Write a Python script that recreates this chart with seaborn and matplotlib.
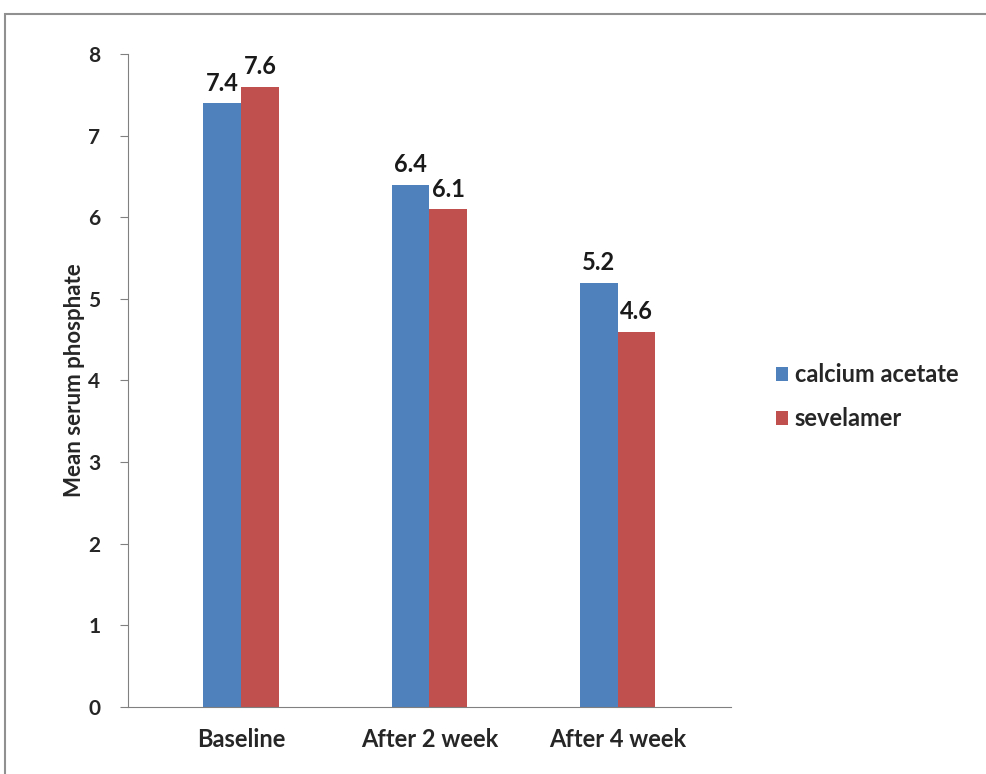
import pandas as pd
import numpy as np
import matplotlib.pyplot as plt
import seaborn as sns
from matplotlib.patches import Rectangle

periods = ["Baseline", "After 2 week", "After 4 week"]
calcium_acetate = [7.4, 6.4, 5.2]
sevelamer = [7.6, 6.1, 4.6]
y_ticks = [0, 1, 2, 3, 4, 5, 6, 7, 8]

df = pd.DataFrame({
    "period": periods * 2,
    "value": calcium_acetate + sevelamer,
    "drug": ["calcium acetate"] * 3 + ["sevelamer"] * 3,
})

sns.set_style("white")
plt.rcParams["font.family"] = ["Lato", "DejaVu Sans"]
plt.rcParams["font.weight"] = "bold"

fig = plt.figure(figsize=(9.86, 7.74), dpi=100)
ax = fig.add_axes([0.13, 0.0866, 0.611, 0.8436])

sns.barplot(
    data=df, x="period", y="value", hue="drug",
    palette=["#4F81BD", "#C0504D"], saturation=1, width=0.4, gap=0,
    edgecolor="none", ax=ax,
)

for cont in ax.containers:
    ax.bar_label(cont, fmt="%.1f", padding=6, fontsize=17, fontweight="bold", color="#1a1a1a")

ax.set_ylim(0, 8)
ax.set_xlim(-0.6, 2.6)
ax.set_yticks(y_ticks)
ax.set_xlabel("")
ax.set_ylabel("Mean serum phosphate", fontsize=16, fontweight="bold", labelpad=2)
ax.tick_params(axis="y", left=True, length=6, color="#808080", labelsize=15, pad=14)
ax.tick_params(axis="x", bottom=False, labelsize=17, pad=12)
for lbl in ax.get_xticklabels() + ax.get_yticklabels():
    lbl.set_fontweight("bold")

sns.despine(ax=ax, top=True, right=True)
ax.spines["left"].set_color("#808080")
ax.spines["bottom"].set_color("#808080")

ax.legend(loc="center left", bbox_to_anchor=(1.04, 0.475), frameon=False,
          handlelength=0.5, handleheight=0.5, handletextpad=0.3,
          labelspacing=0.9, prop={"weight": "bold", "size": 17})

fig.patches.append(Rectangle((0.005, -0.1), 1.2, 1.082, transform=fig.transFigure,
                             fill=False, edgecolor="#909090", linewidth=1.5))

plt.savefig("out.png", dpi=100)
